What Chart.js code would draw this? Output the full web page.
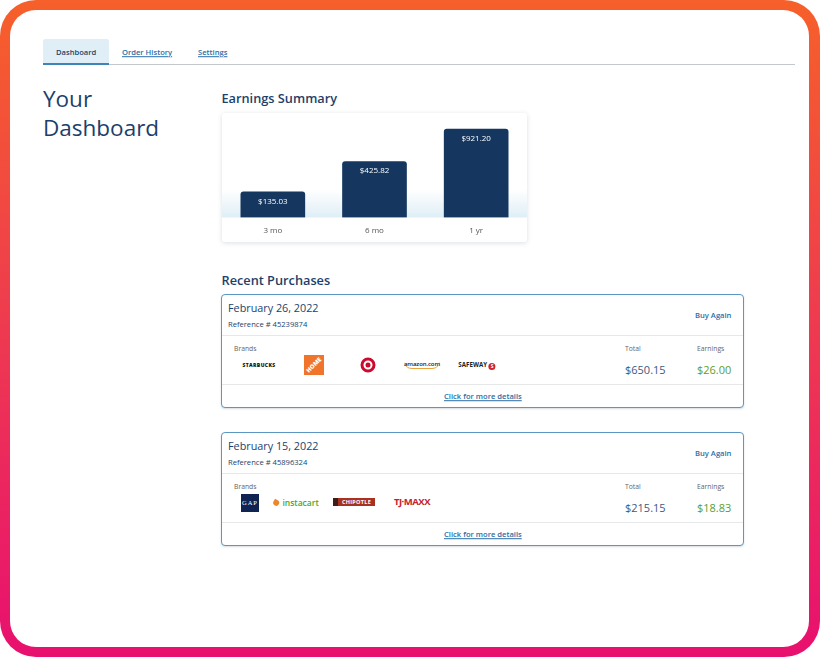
<!DOCTYPE html>
<html>
<head>
<meta charset="utf-8">
<title>Your Dashboard</title>
<script src="https://cdn.jsdelivr.net/npm/chart.js@4/dist/chart.umd.js"></script>
<style>
  html, body { margin: 0; padding: 0; background: #fff; }
  body { width: 821px; height: 658px; position: relative; overflow: hidden; font-family: "Open Sans", sans-serif; color: #1d3f6b; }
  .frame { position: absolute; left: 0; top: 0; width: 820px; height: 657px; border-radius: 36px; background: linear-gradient(180deg, #f6602a 0%, #ee3a50 50%, #e8106f 100%); }
  .sheet { position: absolute; left: 10px; top: 10px; width: 799px; height: 637px; border-radius: 26px; background: #fff; }
  .t { position: absolute; white-space: nowrap; transform: translateY(-50%); line-height: 1; }
  .link { color: #2a6ea6; font-weight: 600; text-decoration: underline; }
  .tab { position: absolute; left: 43px; top: 39px; width: 66px; height: 24px; background: #e0eff7; border-radius: 2px 2px 0 0; border-bottom: 2px solid #3d84b8; }
  .rule { position: absolute; left: 109px; top: 64px; width: 686px; height: 1px; background: #c4c8cc; }
  .chartCard { position: absolute; left: 222px; top: 113px; width: 305px; height: 129px; background: #fff; border-radius: 3px; box-shadow: 0 1px 5px rgba(60, 80, 100, .18); }
  .chartCard canvas { position: absolute; left: 0; top: 0; }
  .card { position: absolute; left: 221px; width: 521px; height: 112px; border: 1px solid #5b97c2; border-radius: 4px; background: #fff; box-shadow: 0 1px 2px rgba(60, 80, 100, .2); }
  .sep { position: absolute; left: 0; width: 100%; height: 1px; background: #e6e8ea; }
  .logo { position: absolute; transform: translate(-50%, -50%); white-space: nowrap; line-height: 1; }
</style>
</head>
<body>
<div class="frame"></div>
<div class="sheet"></div>
<div class="tab"></div>
<div class="rule"></div>
<div class="t" style="left:56px;top:52.5px;font-size:7.6px;font-weight:600">Dashboard</div>
<div class="t link" style="left:122px;top:52.5px;font-size:7.6px">Order History</div>
<div class="t link" style="left:198px;top:52.5px;font-size:7.6px">Settings</div>
<div class="t" style="left:43px;top:98.5px;font-size:22.5px">Your</div>
<div class="t" style="left:43px;top:127.5px;font-size:22.5px">Dashboard</div>
<div class="t" style="left:221.5px;top:98.2px;font-size:12.75px;font-weight:600">Earnings Summary</div>
<div class="t" style="left:221.5px;top:280.2px;font-size:12.75px;font-weight:600">Recent Purchases</div>
<div class="chartCard"><canvas id="earnChart" width="305" height="129"></canvas></div>
<div id="purchases"></div>

<script>
const periods = ['3 mo', '6 mo', '1 yr']
const earnings = [135.03, 425.82, 921.2]

const purchaseDates = ['February 26, 2022', 'February 15, 2022']
const purchaseRefs = ['45239874', '45896324']
const purchaseTotals = ['$650.15', '$215.15']
const purchaseEarnings = ['$26.00', '$18.83']

// the bars in the picture are not to scale, a square root axis is the closest fit
const axisMin = 16
const axisMax = 1232

class SqrtScale extends Chart.LinearScale {
  getPixelForValue(value) {
    const low = Math.sqrt(axisMin)
    const high = Math.sqrt(axisMax)
    return this.getPixelForDecimal((Math.sqrt(value) - low) / (high - low))
  }
  getValueForPixel(pixel) {
    const low = Math.sqrt(axisMin)
    const high = Math.sqrt(axisMax)
    return Math.pow(low + this.getDecimalForPixel(pixel) * (high - low), 2)
  }
}
SqrtScale.id = 'sqrt'
SqrtScale.defaults = Chart.LinearScale.defaults
Chart.register(SqrtScale)

const floorGlow = {
  id: 'floorGlow',
  beforeDatasetsDraw(chart) {
    const { ctx, chartArea } = chart
    const top = chartArea.bottom - 28
    const fill = ctx.createLinearGradient(0, top, 0, chartArea.bottom)
    fill.addColorStop(0, 'rgba(223, 238, 246, 0)')
    fill.addColorStop(1, '#dfeef6')
    ctx.save()
    ctx.fillStyle = fill
    ctx.fillRect(0, top, chart.width, 28)
    ctx.restore()
  }
}

const barLabels = {
  id: 'barLabels',
  afterDatasetsDraw(chart) {
    const { ctx } = chart
    ctx.save()
    ctx.fillStyle = '#fff'
    ctx.font = '8px "Open Sans"'
    ctx.textAlign = 'center'
    ctx.textBaseline = 'middle'
    chart.getDatasetMeta(0).data.forEach((bar, i) => {
      ctx.fillText('$' + earnings[i].toFixed(2), bar.x, bar.y + 9.5)
    })
    ctx.restore()
  }
}

new Chart(document.getElementById('earnChart').getContext('2d'), {
  type: 'bar',
  data: {
    labels: periods,
    datasets: [{
      data: earnings,
      base: axisMin,
      backgroundColor: '#15375f',
      barThickness: 64,
      borderRadius: { topLeft: 3, topRight: 3 },
      borderSkipped: 'bottom'
    }]
  },
  options: {
    responsive: false,
    animation: false,
    layout: { padding: 0 },
    plugins: { legend: { display: false }, tooltip: { enabled: false } },
    scales: {
      x: {
        grid: { display: false },
        border: { display: false },
        ticks: { color: '#555', font: { family: 'Open Sans', size: 8 }, padding: 0 },
        afterFit(scale) { scale.height = 24.5 }
      },
      y: { type: 'sqrt', min: axisMin, max: axisMax, display: false }
    }
  },
  plugins: [floorGlow, barLabels]
})

// logos are rough stand-ins built from text and css
function starbucks(x, y) { return `<div class="logo" style="left:${x}px;top:${y}px;font-size:5px;font-weight:800;letter-spacing:.4px;color:#111">STARBUCKS</div>` }
function homeDepot(x, y) { return `<div class="logo" style="left:${x}px;top:${y}px;width:20px;height:20px;background:#f0752a;color:#fff;font-size:6px;font-weight:800;text-align:center;line-height:20px"><span style="display:block;transform:rotate(-45deg)">HOME</span></div>` }
function target(x, y) { return `<div class="logo" style="left:${x}px;top:${y}px;width:9px;height:9px;border-radius:50%;background:#fff;border:3.5px solid #cc0a2d;box-sizing:content-box"><div style="width:5px;height:5px;margin:2px;border-radius:50%;background:#cc0a2d"></div></div>` }
function amazon(x, y) { return `<div class="logo" style="left:${x}px;top:${y}px;font-size:6px;font-weight:600;letter-spacing:-.1px;color:#222;border-bottom:1px solid #e8a33d;border-radius:0 0 8px 8px;padding-bottom:1px">amazon.com</div>` }
function safeway(x, y) { return `<div class="logo" style="left:${x}px;top:${y + 1}px;font-size:6.2px;font-weight:700;color:#222">SAFEWAY <span style="display:inline-block;width:7px;height:7px;border-radius:50%;background:#d2232a;color:#fff;font-size:5px;line-height:7px;text-align:center;vertical-align:-1px">S</span></div>` }
function gap(x, y) { return `<div class="logo" style="left:${x}px;top:${y}px;width:18px;height:18px;background:#0f2452;color:#fff;font-family:'Liberation Serif';font-size:6.5px;letter-spacing:1px;text-align:center;line-height:18px">GAP</div>` }
function instacart(x, y) { return `<div class="logo" style="left:${x}px;top:${y}px;font-size:8.5px;font-weight:600;color:#43a82e"><span style="display:inline-block;width:6px;height:6px;background:#f0862a;border-radius:0 50% 50% 50%;transform:rotate(30deg);margin-right:1px"></span> instacart</div>` }
function chipotle(x, y) { return `<div class="logo" style="left:${x}px;top:${y}px;width:42px;height:8px;background:#a8321f;border-left:5px solid #3f1d14;box-sizing:border-box;color:#fff;font-size:5.5px;font-weight:700;text-align:center;line-height:8px;letter-spacing:.3px">CHIPOTLE</div>` }
function tjmaxx(x, y) { return `<div class="logo" style="left:${x}px;top:${y}px;font-size:9.5px;font-weight:700;letter-spacing:-.5px;color:#c8202f">TJ·MAXX</div>` }

const purchaseLogos = [
  [starbucks(259, 71), homeDepot(314, 71), target(368, 71), amazon(422, 71), safeway(477, 71)],
  [gap(250, 71), instacart(296, 71), chipotle(354, 70), tjmaxx(412, 70)]
]
const cardTops = [294, 432]

const purchases = document.getElementById('purchases')
purchaseDates.forEach((date, i) => {
  const top = cardTops[i]
  const at = (y) => top + y
  const logos = purchaseLogos[i].join('')
  purchases.insertAdjacentHTML('beforeend', `
    <div class="card" style="top:${top}px"></div>
    <div class="sep" style="left:222px;width:521px;top:${at(41)}px"></div>
    <div class="sep" style="left:222px;width:521px;top:${at(90)}px"></div>
    <div class="t" style="left:228px;top:${at(14)}px;font-size:10.8px">${date}</div>
    <div class="t" style="left:228px;top:${at(30.5)}px;font-size:7.6px">Reference # ${purchaseRefs[i]}</div>
    <div class="t" style="left:695px;top:${at(21.5)}px;font-size:7.6px;font-weight:600;color:#2a6ea6">Buy Again</div>
    <div class="t" style="left:234px;top:${at(54.5)}px;font-size:6.8px;color:#666">Brands</div>
    <div class="t" style="left:625px;top:${at(54.5)}px;font-size:6.8px;color:#666">Total</div>
    <div class="t" style="left:697px;top:${at(54.5)}px;font-size:6.8px;color:#666">Earnings</div>
    <div class="t" style="left:625px;top:${at(74.5)}px;font-size:11px;color:#3b5a80">${purchaseTotals[i]}</div>
    <div class="t" style="left:697px;top:${at(74.5)}px;font-size:11px;color:#5a9e2f">${purchaseEarnings[i]}</div>
    <div class="t link" style="left:444px;top:${at(102.5)}px;font-size:7.6px">Click for more details</div>
    <div style="position:absolute;left:0;top:${top}px">${logos}</div>
  `)
})
</script>
</body>
</html>
